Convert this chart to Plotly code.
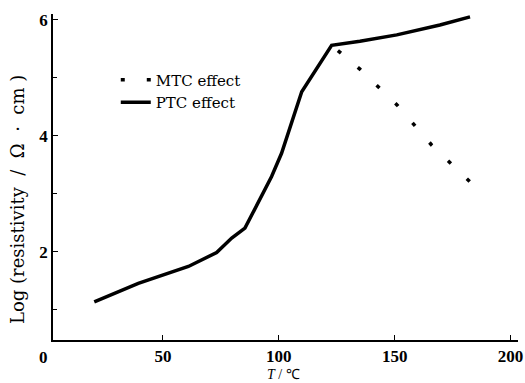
import plotly.graph_objects as go

# PTC effect curve (T in °C, log resistivity)
ptc_T = [20.4, 39.4, 61.0, 73.2, 79.7, 85.4, 96.9, 101.2, 109.9, 122.8, 135.0, 150.9, 169.5, 182.5]
ptc_logR = [1.14, 1.46, 1.75, 1.99, 2.24, 2.41, 3.30, 3.70, 4.76, 5.56, 5.63, 5.74, 5.91, 6.05]

# MTC effect curve
mtc_T = [125.5, 135.0, 151.1, 166.0, 182.5]
mtc_logR = [5.47, 5.15, 4.53, 3.84, 3.21]

x_ticks = [50, 100, 150, 200]
y_major = [2, 4, 6]
y_minor = [1, 3, 5]

serif = "DejaVu Serif"
tickfont = dict(family="Liberation Serif", size=17, color="black", weight="bold")
NB = "\u00a0"

fig = go.Figure()
fig.add_trace(go.Scatter(
    x=mtc_T, y=mtc_logR, mode="lines", name="MTC effect",
    line=dict(color="black", width=3.5, dash="4px,22px"),
))
fig.add_trace(go.Scatter(
    x=ptc_T, y=ptc_logR, mode="lines", name="PTC effect",
    line=dict(color="black", width=3.5),
))

fig.update_layout(
    width=525, height=383,
    margin=dict(l=53, r=7, t=14, b=43),
    paper_bgcolor="white", plot_bgcolor="white",
    showlegend=True,
    legend=dict(x=0.135, y=0.848, xanchor="left", yanchor="top",
                font=dict(family=serif, size=15, color="black"),
                bgcolor="rgba(0,0,0,0)", tracegroupgap=0),
    xaxis=dict(range=[2.6, 203.2], tickvals=x_ticks, ticks="inside", ticklen=5,
               tickcolor="black", showline=True, linecolor="black", linewidth=1.5,
               showgrid=False, zeroline=False, tickfont=tickfont, automargin=False),
    yaxis=dict(range=[0.483, 6.10], tickvals=y_major, ticks="inside", ticklen=5,
               tickcolor="black", showline=True, linecolor="black", linewidth=1.5,
               showgrid=False, zeroline=False, tickfont=tickfont, automargin=False,
               minor=dict(tickvals=y_minor, ticks="inside", ticklen=4, tickcolor="black")),
    annotations=[
        dict(text="0", xref="paper", yref="paper", x=(43 - 53) / 465, y=(340 - 357) / 326,
             showarrow=False, font=tickfont, xanchor="center", yanchor="middle"),
        dict(text=f"Log{NB}(resistivity{NB}{NB}/{NB}{NB}Ω{NB}{NB}·{NB}{NB}cm{NB})", xref="paper", yref="paper",
             x=(17 - 53) / 465, y=(340 - 200) / 326, textangle=-90, showarrow=False,
             font=dict(family=serif, size=18, color="black"), xanchor="center", yanchor="middle"),
        dict(text="<i>T</i> / ℃", xref="paper", yref="paper",
             x=(283 - 53) / 465, y=(340 - 383) / 326, showarrow=False,
             font=dict(family="Liberation Serif", size=14, color="black"),
             xanchor="center", yanchor="bottom", borderpad=0),
    ],
)

fig.write_html("out.html", config={"displayModeBar": False},
               post_script="document.body.style.margin='0';document.body.style.overflow='hidden';")
